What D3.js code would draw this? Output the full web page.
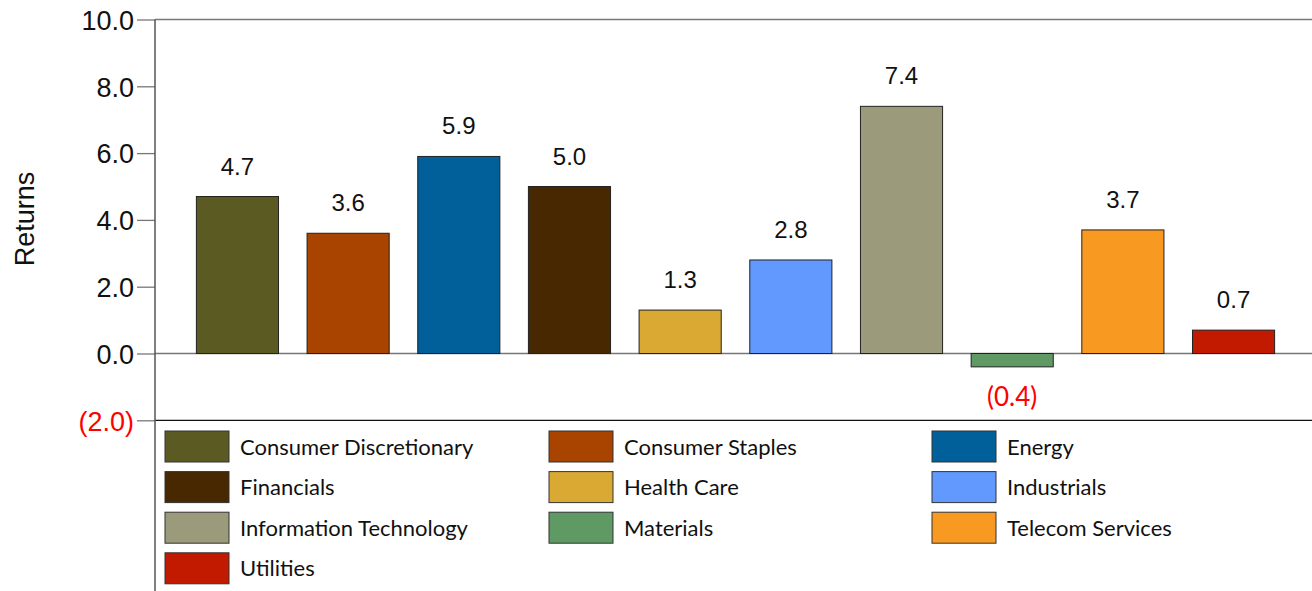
<!DOCTYPE html>
<html>
<head>
<meta charset="utf-8">
<script src="https://cdn.jsdelivr.net/npm/d3@7"></script>
<style>
  html, body { margin: 0; padding: 0; background: #fff; }
  svg { display: block; }
</style>
</head>
<body>
<svg id="chart" width="1312" height="591"></svg>
<script>
// Sector returns
const sectors = ["Consumer Discretionary", "Consumer Staples", "Energy", "Financials", "Health Care",
                 "Industrials", "Information Technology", "Materials", "Telecom Services", "Utilities"];
const returns = [4.7, 3.6, 5.9, 5.0, 1.3, 2.8, 7.4, -0.4, 3.7, 0.7];
const colors = ["#5b5a22", "#a84400", "#01609a", "#472800", "#daa933",
                "#6199ff", "#9b9a7a", "#5f9a64", "#f89a21", "#c21a00"];
const yTicks = [-2, 0, 2, 4, 6, 8, 10];

const svg = d3.select("#chart");
const W = 1312, H = 591;
const axisX = 155;

const y = d3.scaleLinear().domain([-2, 10]).range([420.3, 19.5]);
const x = d3.scaleBand().domain(sectors).range([182, 1289]).paddingInner(0.258).paddingOuter(0.13);

const fmt = v => v < 0 ? "(" + d3.format(".1f")(-v) + ")" : d3.format(".1f")(v);

// Horizontal reference lines: top, zero, bottom
svg.append("line").attr("x1", axisX).attr("x2", W).attr("y1", y(10)).attr("y2", y(10))
  .attr("stroke", "#777").attr("stroke-width", 1.3);
svg.append("line").attr("x1", axisX).attr("x2", W).attr("y1", y(0)).attr("y2", y(0))
  .attr("stroke", "#777").attr("stroke-width", 1.3);
svg.append("line").attr("x1", axisX).attr("x2", W).attr("y1", y(-2)).attr("y2", y(-2))
  .attr("stroke", "#111").attr("stroke-width", 1.3);

// Y axis
const yAxis = d3.axisLeft(y).tickValues(yTicks).tickSize(18).tickPadding(3).tickFormat(fmt);
const gy = svg.append("g").attr("transform", `translate(${axisX},0)`).call(yAxis);
gy.select(".domain").remove();
gy.selectAll(".tick line").attr("stroke", "#777").attr("stroke-width", 1.3);
gy.selectAll(".tick text")
  .attr("font-family", "Liberation Sans, Arial, sans-serif")
  .attr("font-size", 27)
  .attr("fill", d => d < 0 ? "#ff0000" : "#111")
  .attr("dy", "0.36em");

// Vertical axis line running the full height
svg.append("line").attr("x1", axisX).attr("x2", axisX).attr("y1", y(10)).attr("y2", H)
  .attr("stroke", "#555").attr("stroke-width", 1.5);

// Axis title
svg.append("text")
  .attr("transform", `translate(34,${219}) rotate(-90)`)
  .attr("text-anchor", "middle")
  .attr("font-family", "Liberation Sans, Arial, sans-serif")
  .attr("font-size", 27)
  .attr("fill", "#111")
  .text("Returns");

// Bars
svg.append("g").selectAll("rect").data(sectors).join("rect")
  .attr("x", d => x(d))
  .attr("width", x.bandwidth())
  .attr("y", (d, i) => y(Math.max(0, returns[i])))
  .attr("height", (d, i) => Math.abs(y(returns[i]) - y(0)))
  .attr("fill", (d, i) => colors[i])
  .attr("stroke", "#222")
  .attr("stroke-width", 1);

// Value labels
svg.append("g").selectAll("text").data(sectors).join("text")
  .attr("x", d => x(d) + x.bandwidth() / 2)
  .attr("y", (d, i) => returns[i] >= 0 ? y(returns[i]) - 22 : y(returns[i]) + 39)
  .attr("text-anchor", "middle")
  .attr("font-family", (d, i) => returns[i] < 0 ? "Lato, sans-serif" : "Liberation Sans, Arial, sans-serif")
  .attr("font-size", (d, i) => returns[i] < 0 ? 26 : 24)
  .attr("fill", (d, i) => returns[i] < 0 ? "#ff0000" : "#111")
  .text((d, i) => fmt(returns[i]));

// Legend
const legCols = [165, 549, 932];
const legRow0 = 431, legRowStep = 40.6;
const leg = svg.append("g").selectAll("g").data(sectors).join("g")
  .attr("transform", (d, i) => `translate(${legCols[i % 3]},${legRow0 + Math.floor(i / 3) * legRowStep})`);
leg.append("rect")
  .attr("width", 64).attr("height", 31)
  .attr("fill", (d, i) => colors[i])
  .attr("stroke", "#333").attr("stroke-width", 1);
leg.append("text")
  .attr("x", 75).attr("y", 16).attr("dy", "0.35em")
  .attr("font-family", "Lato, 'Open Sans', sans-serif")
  .attr("font-size", 22)
  .attr("fill", "#111")
  .text(d => d);
</script>
</body>
</html>
